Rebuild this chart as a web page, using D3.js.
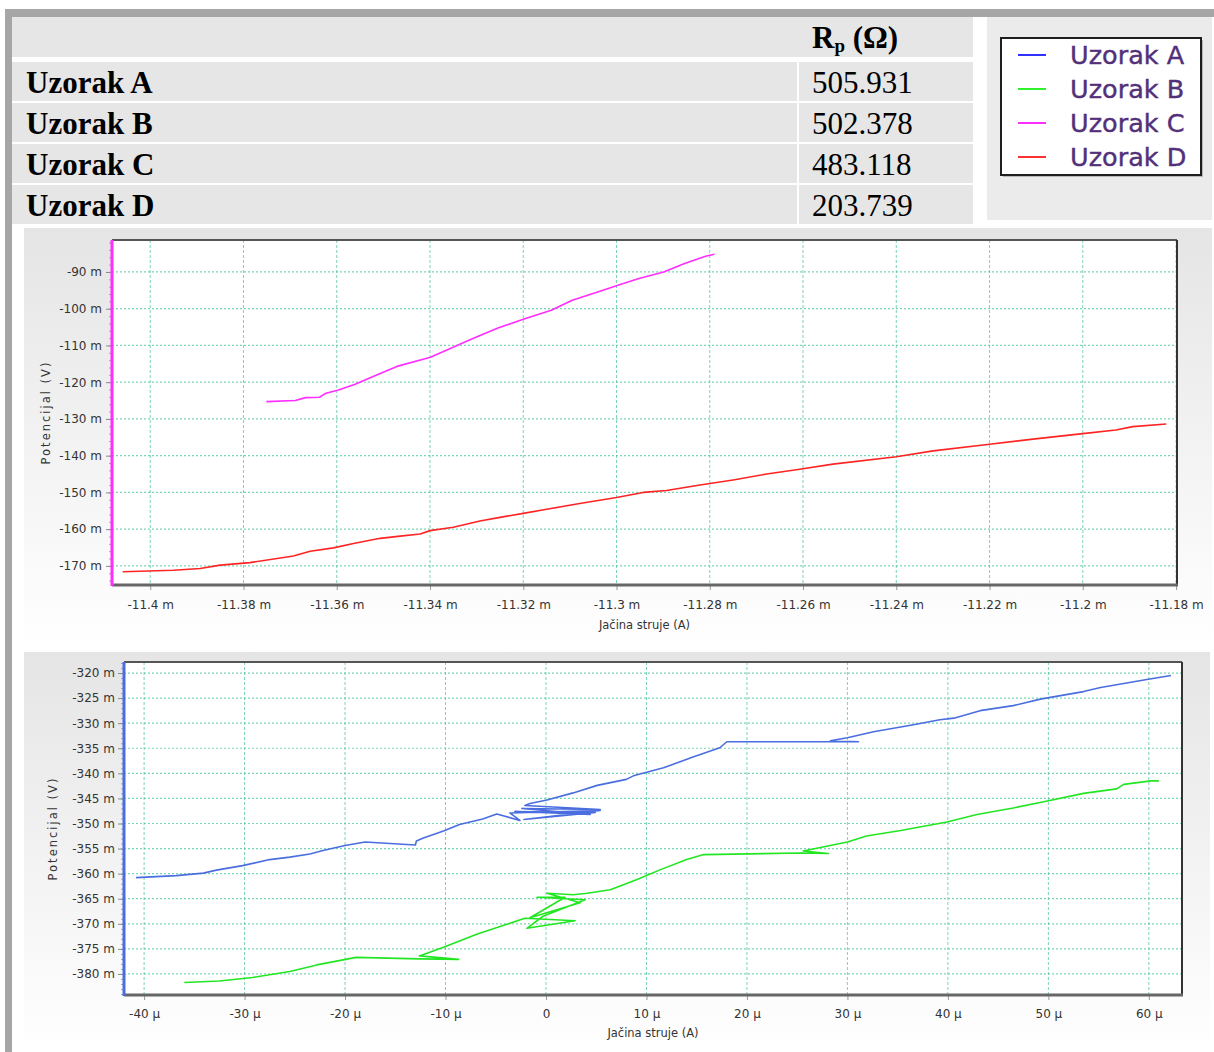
<!DOCTYPE html>
<html>
<head>
<meta charset="utf-8">
<script src="https://cdn.jsdelivr.net/npm/d3@7"></script>
<style>
  body { margin: 0; background: #fff; }
  svg { display: block; }
</style>
</head>
<body>
<div id="fig"></div>
<script>
// ---- data ----
const samples = ['Uzorak A', 'Uzorak B', 'Uzorak C', 'Uzorak D'];
const rpValues = ['505.931', '502.378', '483.118', '203.739'];

// top chart: current in mA, potential in mV
const topXTicks = [-11.4, -11.38, -11.36, -11.34, -11.32, -11.3, -11.28, -11.26, -11.24, -11.22, -11.2, -11.18];
const topYTicks = [-90, -100, -110, -120, -130, -140, -150, -160, -170];

const sampleC = [
  [-11.3751, -125.3], [-11.3689, -125.0], [-11.3667, -124.2], [-11.3637, -124.1], [-11.3625, -123.1],
  [-11.3598, -122.2], [-11.3562, -120.6], [-11.3517, -118.2], [-11.3471, -115.7], [-11.3399, -113.2],
  [-11.3365, -111.3], [-11.3313, -108.4], [-11.3253, -105.2], [-11.3200, -102.9], [-11.3140, -100.4],
  [-11.3095, -97.7], [-11.3042, -95.5], [-11.2997, -93.6], [-11.2952, -91.8], [-11.2899, -90.0],
  [-11.2854, -87.7], [-11.2809, -85.7], [-11.2790, -85.2]
];

const sampleD = [
  [-11.4059, -171.6], [-11.3950, -171.2], [-11.3893, -170.7], [-11.3850, -169.8], [-11.3786, -169.1],
  [-11.3693, -167.3], [-11.3657, -166.0], [-11.3607, -165.1], [-11.3564, -163.9], [-11.3507, -162.5],
  [-11.3464, -161.9], [-11.3421, -161.3], [-11.3400, -160.4], [-11.3350, -159.5], [-11.3293, -157.8],
  [-11.3250, -156.8], [-11.3200, -155.7], [-11.3150, -154.6], [-11.3079, -153.0], [-11.3000, -151.4],
  [-11.2943, -150.0], [-11.2893, -149.5], [-11.2821, -148.0], [-11.2750, -146.6], [-11.2678, -145.0],
  [-11.2607, -143.7], [-11.2536, -142.3], [-11.2400, -140.3], [-11.2321, -138.7], [-11.2200, -136.9],
  [-11.2107, -135.5], [-11.2000, -134.0], [-11.1929, -133.0], [-11.1893, -132.1], [-11.1821, -131.4]
];

// bottom chart: current in µA, potential in mV
const botXTicks = [-40, -30, -20, -10, 0, 10, 20, 30, 40, 50, 60];
const botYTicks = [-320, -325, -330, -335, -340, -345, -350, -355, -360, -365, -370, -375, -380];

const sampleA = [
  [-40.8, -360.8], [-36.8, -360.4], [-34.1, -359.9], [-32.8, -359.3], [-30.2, -358.4], [-27.5, -357.2],
  [-25.5, -356.7], [-23.5, -356.1], [-22.2, -355.4], [-20.0, -354.4], [-18.0, -353.7], [-13.0, -354.3],
  [-12.9, -353.5], [-12.2, -352.9], [-10.2, -351.5], [-8.6, -350.2], [-6.3, -349.1], [-4.9, -348.1],
  [-2.6, -349.4], [-3.6, -347.9], [5.4, -347.4], [-2.2, -349.2], [4.9, -347.8], [-3.1, -347.6],
  [4.4, -348.2], [-2.4, -347.0], [5.4, -347.2], [-2.1, -346.4], [-1.6, -346.0], [0.1, -345.3],
  [2.7, -343.9], [5.1, -342.4], [8.0, -341.2], [8.7, -340.5], [11.7, -338.9], [14.7, -336.7],
  [17.3, -334.9], [18.0, -333.7], [28.0, -333.7], [31.1, -333.7], [28.3, -333.5], [30.0, -332.9],
  [32.6, -331.7], [36.3, -330.4], [39.2, -329.3], [40.6, -329.0], [43.2, -327.5], [46.5, -326.5],
  [49.2, -325.2], [53.5, -323.7], [55.2, -322.9], [59.8, -321.3], [62.2, -320.5]
];

const sampleB = [
  [-36.0, -381.7], [-32.5, -381.4], [-29.2, -380.7], [-25.5, -379.5], [-22.8, -378.2], [-20.2, -377.2],
  [-18.9, -376.7], [-12.6, -377.0], [-8.7, -377.1], [-12.6, -376.4], [-10.2, -374.7], [-6.9, -372.1],
  [-3.9, -370.1], [-2.1, -368.9], [2.9, -369.4], [-1.9, -370.9], [-0.3, -368.5], [3.9, -365.2],
  [-0.9, -364.7], [1.9, -364.7], [-1.6, -368.8], [3.4, -365.8], [0.1, -363.9], [2.7, -364.2],
  [4.1, -363.9], [6.4, -363.2], [9.0, -361.2], [11.4, -359.2], [14.0, -357.2], [15.7, -356.2],
  [25.3, -355.9], [28.1, -356.0], [25.6, -355.5], [30.0, -353.7], [31.9, -352.5], [35.3, -351.4],
  [39.9, -349.7], [42.9, -348.2], [46.5, -346.9], [49.9, -345.5], [53.5, -344.0], [56.8, -343.1],
  [57.5, -342.2], [60.2, -341.5], [61.0, -341.5]
];

const colors = {
  'Uzorak A': '#4a6ee0',
  'Uzorak B': '#22e622',
  'Uzorak C': '#ff2dff',
  'Uzorak D': '#ff2424'
};
const legendColors = ['#3030ff', '#30f030', '#ff30ff', '#ff3030'];

// ---- page ----
const svg = d3.select('#fig').append('svg')
  .attr('width', 1214)
  .attr('height', 1052);

const grad = svg.append('defs').append('linearGradient')
  .attr('id', 'panelGrad')
  .attr('x1', 0).attr('x2', 0).attr('y1', 0).attr('y2', 1);
grad.append('stop').attr('offset', '0%').attr('stop-color', '#e5e5e5');
grad.append('stop').attr('offset', '100%').attr('stop-color', '#ffffff');

// grey frame
svg.append('rect').attr('x', 5).attr('y', 9).attr('width', 1209).attr('height', 8).attr('fill', '#a6a6a6');
svg.append('rect').attr('x', 5).attr('y', 9).attr('width', 7).attr('height', 1043).attr('fill', '#a6a6a6');

// table
const table = svg.append('g');
table.append('rect').attr('x', 12).attr('y', 17).attr('width', 961).attr('height', 40).attr('fill', '#e6e6e6');

const header = table.append('text')
  .attr('x', 812).attr('y', 48)
  .style('font-family', '"Liberation Serif", "Times New Roman", serif')
  .style('font-weight', 'bold')
  .style('font-size', '31px');
header.append('tspan').text('R');
header.append('tspan').attr('dy', 4).style('font-size', '19px').text('p');
header.append('tspan').attr('dy', -4).text(' (Ω)');

const rows = table.selectAll('g.row')
  .data(samples)
  .join('g')
  .attr('class', 'row')
  .attr('transform', (d, i) => `translate(0,${62 + i * 41})`);

rows.append('rect').attr('x', 12).attr('width', 785).attr('height', 39).attr('fill', '#e6e6e6');
rows.append('rect').attr('x', 799).attr('width', 174).attr('height', 39).attr('fill', '#e6e6e6');
rows.append('text')
  .attr('x', 26).attr('y', 31)
  .style('font-family', '"Liberation Serif", "Times New Roman", serif')
  .style('font-weight', 'bold')
  .style('font-size', '31px')
  .text(d => d);
rows.append('text')
  .attr('x', 812).attr('y', 31)
  .style('font-family', '"Liberation Serif", "Times New Roman", serif')
  .style('font-size', '31px')
  .text((d, i) => rpValues[i]);

// legend
const legend = svg.append('g');
legend.append('rect').attr('x', 987).attr('y', 17).attr('width', 225).attr('height', 203).attr('fill', '#ebebeb');
legend.append('rect').attr('x', 1003).attr('y', 40).attr('width', 200).attr('height', 137).attr('fill', '#b8b8b8');
legend.append('rect').attr('x', 1001).attr('y', 38).attr('width', 200).attr('height', 137)
  .attr('fill', '#fff').attr('stroke', '#1e1e1e').attr('stroke-width', 2);

const legendRows = legend.selectAll('g.item')
  .data(samples)
  .join('g')
  .attr('class', 'item')
  .attr('transform', (d, i) => `translate(0,${55 + i * 34})`);
legendRows.append('line')
  .attr('x1', 1018).attr('x2', 1046)
  .attr('stroke', (d, i) => legendColors[i]).attr('stroke-width', 2);
legendRows.append('text')
  .attr('x', 1070).attr('y', 9)
  .style('font-family', '"DejaVu Sans", Verdana, sans-serif')
  .style('font-size', '25.5px')
  .attr('fill', '#52307a')
  .attr('stroke', '#52307a')
  .attr('stroke-width', 0.4)
  .text(d => d);

// ---- charts ----
function drawChart(opt) {
  const g = svg.append('g');
  g.append('rect')
    .attr('x', opt.panel[0]).attr('y', opt.panel[1])
    .attr('width', opt.panel[2]).attr('height', opt.panel[3])
    .attr('fill', 'url(#panelGrad)');

  const x = d3.scaleLinear().domain(opt.xDomain).range([opt.left, opt.right]);
  const y = d3.scaleLinear().domain(opt.yDomain).range([opt.bottom, opt.top]);

  g.append('rect')
    .attr('x', opt.left).attr('y', opt.top)
    .attr('width', opt.right - opt.left).attr('height', opt.bottom - opt.top)
    .attr('fill', '#fff');

  // grid
  g.append('g').selectAll('line.vg')
    .data(opt.xTicks)
    .join('line')
    .attr('x1', d => x(d)).attr('x2', d => x(d))
    .attr('y1', opt.top).attr('y2', opt.bottom)
    .attr('stroke', '#57c9a0').attr('stroke-opacity', 0.8)
    .attr('stroke-width', 1).attr('stroke-dasharray', '3,2');
  g.append('g').selectAll('line.hg')
    .data(opt.yTicks)
    .join('line')
    .attr('x1', opt.left).attr('x2', opt.right)
    .attr('y1', d => y(d)).attr('y2', d => y(d))
    .attr('stroke', '#57c9a0').attr('stroke-opacity', 0.8)
    .attr('stroke-width', 1.2).attr('stroke-dasharray', '2,2');

  // series
  const line = d3.line().x(d => x(d[0])).y(d => y(d[1]));
  opt.series.forEach(s => {
    g.append('path')
      .datum(s.data)
      .attr('d', line)
      .attr('fill', 'none')
      .attr('stroke', colors[s.name])
      .attr('stroke-width', 1.6)
      .attr('stroke-linejoin', 'round');
  });

  const font = '"DejaVu Sans", Tahoma, sans-serif';

  // minor y ticks
  const minor = d3.range(Math.ceil(opt.yDomain[0] / opt.minorStep) * opt.minorStep, opt.yDomain[1], opt.minorStep);
  g.append('g')
    .attr('transform', `translate(${opt.left},0)`)
    .call(d3.axisLeft(y).tickValues(minor).tickSize(3).tickFormat(''))
    .call(a => a.select('.domain').remove())
    .call(a => a.selectAll('line').attr('stroke', '#a8a8a8'));

  // major y ticks
  g.append('g')
    .attr('transform', `translate(${opt.left},0)`)
    .call(d3.axisLeft(y).tickValues(opt.yTicks).tickSize(6).tickPadding(opt.yPad).tickFormat(d => d + ' m'))
    .call(a => a.select('.domain').remove())
    .call(a => a.selectAll('line').attr('stroke', '#888'))
    .call(a => a.selectAll('text')
      .style('font-family', font).style('font-size', '12px').attr('fill', '#333'));

  // x ticks
  g.append('g')
    .attr('transform', `translate(0,${opt.bottom})`)
    .call(d3.axisBottom(x).tickValues(opt.xTicks).tickSize(5).tickPadding(opt.xPad).tickFormat(opt.xFormat))
    .call(a => a.select('.domain').remove())
    .call(a => a.selectAll('line').attr('stroke', '#999'))
    .call(a => a.selectAll('text')
      .style('font-family', font).style('font-size', '12px').attr('fill', '#333'));

  // frame
  g.append('line').attr('x1', opt.left).attr('x2', opt.right).attr('y1', opt.top).attr('y2', opt.top)
    .attr('stroke', '#555').attr('stroke-width', 2);
  g.append('line').attr('x1', opt.right).attr('x2', opt.right).attr('y1', opt.top).attr('y2', opt.bottom)
    .attr('stroke', '#333').attr('stroke-width', 2);
  g.append('line').attr('x1', opt.left).attr('x2', opt.right + 1).attr('y1', opt.bottom).attr('y2', opt.bottom)
    .attr('stroke', '#666').attr('stroke-width', 3);
  g.append('line').attr('x1', opt.left).attr('x2', opt.left).attr('y1', opt.top).attr('y2', opt.bottom + 1)
    .attr('stroke', opt.axisColor).attr('stroke-width', 3);

  // axis titles
  g.append('text')
    .attr('transform', `translate(${opt.yLabelX},${(opt.top + opt.bottom) / 2}) rotate(-90)`)
    .attr('text-anchor', 'middle')
    .style('font-family', font).style('font-size', '11.5px')
    .style('letter-spacing', '2px')
    .attr('fill', '#333')
    .text('Potencijal (V)');
  g.append('text')
    .attr('x', (opt.left + opt.right) / 2).attr('y', opt.xLabelY)
    .attr('text-anchor', 'middle')
    .style('font-family', font).style('font-size', '11.5px')
    .attr('fill', '#333')
    .text('Jačina struje (A)');
}

drawChart({
  panel: [24, 228, 1188, 420],
  left: 112, right: 1177, top: 240, bottom: 585,
  xDomain: [-11.4082, -11.1798], yDomain: [-175.2, -81.3],
  xTicks: topXTicks, yTicks: topYTicks, minorStep: 2,
  xFormat: d => d + ' m',
  xPad: 10, yPad: 4,
  axisColor: colors['Uzorak C'],
  yLabelX: 50, xLabelY: 629,
  series: [{ name: 'Uzorak C', data: sampleC }, { name: 'Uzorak D', data: sampleD }]
});

drawChart({
  panel: [24, 652, 1186, 400],
  left: 124, right: 1182, top: 662, bottom: 995,
  xDomain: [-42.0, 63.3], yDomain: [-384.2, -317.8],
  xTicks: botXTicks, yTicks: botYTicks, minorStep: 1,
  xFormat: d => d === 0 ? '0' : d + ' µ',
  xPad: 9, yPad: 3,
  axisColor: colors['Uzorak A'],
  yLabelX: 57, xLabelY: 1037,
  series: [{ name: 'Uzorak A', data: sampleA }, { name: 'Uzorak B', data: sampleB }]
});
</script>
</body>
</html>
